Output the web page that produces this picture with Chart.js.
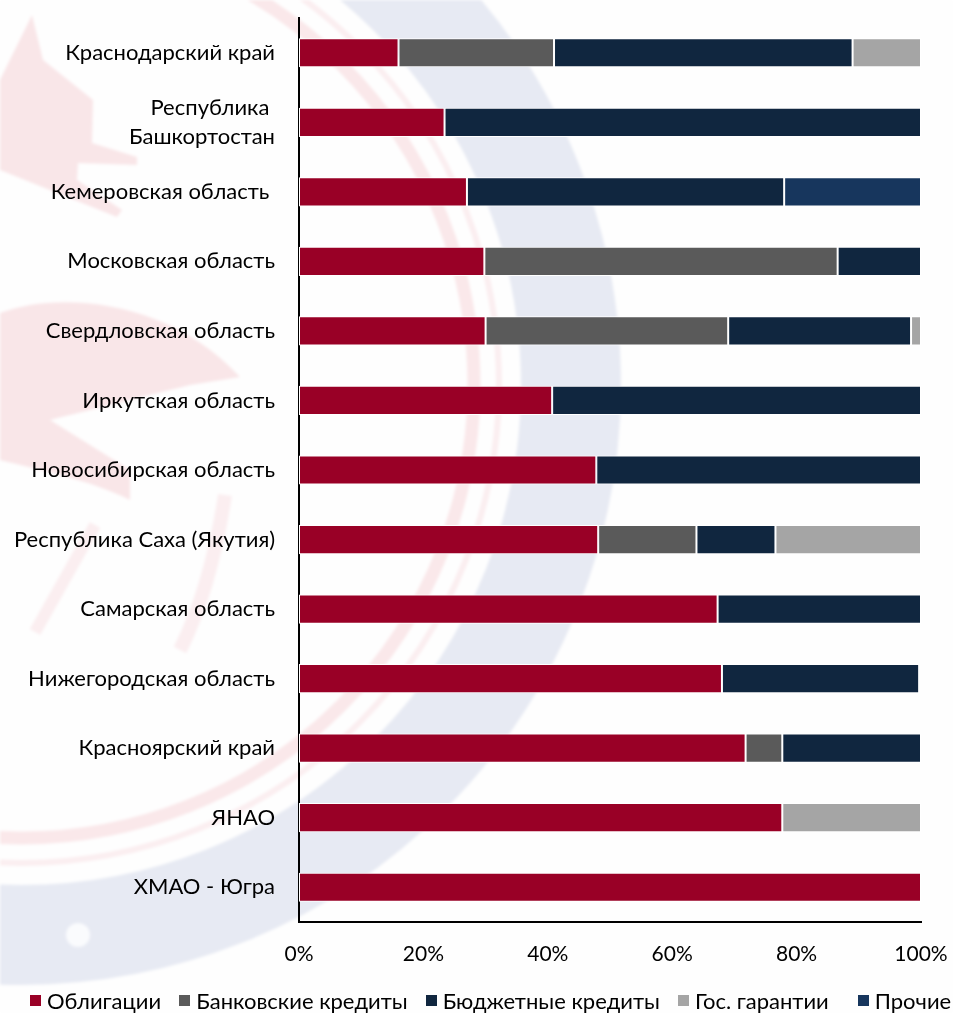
<!DOCTYPE html>
<html>
<head>
<meta charset="utf-8">
<script src="https://cdn.jsdelivr.net/npm/chart.js@4"></script>
<style>
  html, body { margin: 0; padding: 0; background: #fff; }
  #wrap { position: relative; width: 953px; height: 1013px; overflow: hidden; }
  #bg, canvas { position: absolute; left: 0; top: 0; }
  #bg { filter: blur(1.5px); }
  #legend { position: absolute; left: 30px; top: 987px; display: flex; font: 22px Lato; color: #000; white-space: nowrap; }
  #legend span.item { display: flex; align-items: center; margin-right: 18px; }
  #legend span.item:last-child { margin-left: 11px; margin-right: 0; }
  #legend span.box { width: 11px; height: 11px; margin-right: 6px; }
</style>
</head>
<body>
<div id="wrap">
  <!-- faint emblem behind the chart -->
  <svg id="bg" width="953" height="1013">
    <rect width="953" height="1013" fill="#fefefe"/>
    <circle cx="21" cy="385" r="550" fill="none" stroke="#e7eaf3" stroke-width="100"/>
    <circle cx="21" cy="385" r="453" fill="none" stroke="#fae8ea" stroke-width="13"/>
    <circle cx="21" cy="385" r="478" fill="none" stroke="#fbeef0" stroke-width="6"/>
    <path d="M32 15 L43 60 L93 100 L92 143 L137 157 L137 165 L78 163 L77 180 L122 210 L117 217 L0 170 L0 80 Z" fill="#f9e6e8"/>
    <path d="M0 313 C60 290 170 300 240 377 L190 385 C150 395 90 410 50 420 L130 470 L130 500 C90 480 40 470 0 460 Z" fill="#f9e6e8"/>
    <path d="M95 525 L35 632" fill="none" stroke="#fbeef0" stroke-width="12"/>
    <path d="M225 495 C215 560 200 610 180 650" fill="none" stroke="#fbeef0" stroke-width="14"/>
    <circle cx="78" cy="935" r="12" fill="#fafbfd"/>
  </svg>
  <canvas id="chart" width="953" height="1013"></canvas>
  <div id="legend"></div>
</div>
<script>
const categories = ["Краснодарский край", ["Республика ", "Башкортостан"], "Кемеровская область ", "Московская область",
  "Свердловская область", "Иркутская область", "Новосибирская область", "Республика Саха (Якутия)",
  "Самарская область", "Нижегородская область", "Красноярский край", "ЯНАО", "ХМАО - Югра"];

const bonds      = [16, 23.4, 27, 29.8, 30, 40.7, 47.8, 48.1, 67.3, 68, 71.8, 77.7, 100];
const bankLoans  = [25, 0, 0, 56.8, 39, 0, 0, 15.8, 0, 0, 5.9, 0, 0];
const budgetLoans = [48, 76.6, 51, 13.4, 29.4, 59.3, 52.2, 12.7, 32.7, 31.7, 22.3, 0, 0];
const guarantees = [11, 0, 0, 0, 1.6, 0, 0, 23.4, 0, 0, 0, 22.3, 0];
const other      = [0, 0, 22, 0, 0, 0, 0, 0, 0, 0, 0, 0, 0];

const xTicks = [0, 20, 40, 60, 80, 100];

function series(label, data, color) {
  return { label: label, data: data, backgroundColor: color, borderColor: "#ffffff", borderWidth: 1,
    borderSkipped: false, barPercentage: 0.42, categoryPercentage: 1 };
}

Chart.defaults.font.family = "Lato";
Chart.defaults.font.size = 22;
Chart.defaults.color = "#000000";

const chart = new Chart(document.getElementById("chart").getContext("2d"), {
  type: "bar",
  data: {
    labels: categories,
    datasets: [
      series("Облигации", bonds, "#990026"),
      series("Банковские кредиты", bankLoans, "#5a5a5a"),
      series("Бюджетные кредиты", budgetLoans, "#10263f"),
      series("Гос. гарантии", guarantees, "#a5a5a5"),
      series("Прочие", other, "#17365d")
    ]
  },
  options: {
    indexAxis: "y",
    responsive: false,
    animation: false,
    layout: { padding: { left: 0, right: 32, top: 18, bottom: 31 } },
    plugins: {
      tooltip: { enabled: false },
      legend: { display: false }
    },
    scales: {
      x: {
        stacked: true,
        min: 0,
        max: 100,
        afterBuildTicks: (scale) => { scale.ticks = xTicks.map(v => ({ value: v })); },
        ticks: { callback: (v) => v + "%", maxRotation: 0, padding: 20, font: { size: 21 } },
        grid: { display: false, drawTicks: false },
        border: { color: "#000000", width: 2 },
        afterFit: (scale) => { scale.height = 60; scale.paddingLeft = 0; scale.paddingRight = 0; }
      },
      y: {
        stacked: true,
        ticks: { padding: 24, autoSkip: false, font: { size: 22, lineHeight: 1.32 } },
        grid: { display: false, drawTicks: false },
        border: { color: "#000000", width: 2 },
        afterFit: (scale) => { scale.width = 299; scale.paddingTop = 0; scale.paddingBottom = 0; }
      }
    }
  }
});

// legend under the axis, built from the datasets
chart.data.datasets.forEach(ds => {
  const item = document.createElement("span");
  item.className = "item";
  const box = document.createElement("span");
  box.className = "box";
  box.style.background = ds.backgroundColor;
  item.appendChild(box);
  item.appendChild(document.createTextNode(ds.label));
  document.getElementById("legend").appendChild(item);
});
</script>
</body>
</html>
